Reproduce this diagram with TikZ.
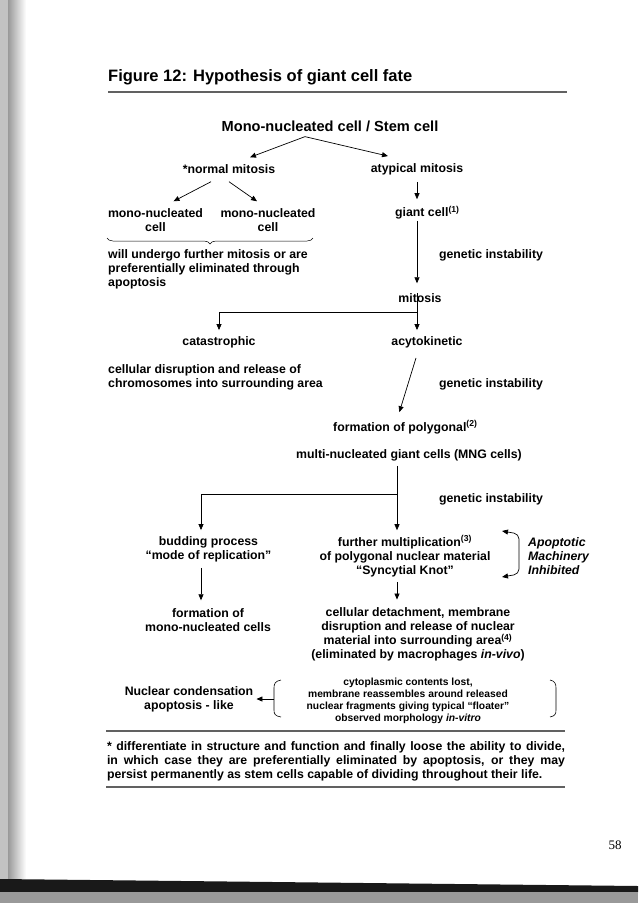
\documentclass[tikz,border=0pt]{standalone}
\usepackage{fontspec}
\setmainfont{Liberation Sans}
\newfontfamily\pagefont{Liberation Serif}
\usepackage{tikz}
\usetikzlibrary{arrows.meta}
\usetikzlibrary{decorations.pathreplacing}
\definecolor{rulegray}{rgb}{0.38,0.38,0.38}
\definecolor{edgegray}{rgb}{0.6,0.6,0.6}

\tikzset{
  lbl/.style={inner sep=0pt,font=\fontsize{12.3}{14}\selectfont\bfseries,align=center},
  smalllbl/.style={inner sep=0pt,font=\fontsize{10.3}{12}\selectfont\bfseries,align=center},
  arr/.style={-{Triangle[length=6pt,width=5pt]},line width=0.7pt},
  conn/.style={line width=0.7pt},
  rulebar/.style={line width=2.4pt,draw=rulegray},
}

\begin{document}
\begin{tikzpicture}[x=1pt,y=-1pt]
\useasboundingbox (0,0) rectangle (638,903);
% scan edges
\fill[edgegray!60] (0,0) rectangle (8,903);
\shade[left color=edgegray,right color=white] (8,0) rectangle (26,903);
\fill[black!90] (0,879) -- (638,886) -- (638,892) -- (0,892) -- cycle;
\fill[edgegray] (0,892) rectangle (638,903);

% title
\node[anchor=west,inner sep=0pt,font=\fontsize{16.5}{18}\selectfont\bfseries] (title) at (108,77) {Figure 12: Hypothesis of giant cell fate};
\draw[rulebar] (108,92) -- (567,92);

% first split
\node[lbl,font=\fontsize{14.6}{16}\selectfont\bfseries] (stem) at (330,126) {Mono-nucleated cell / Stem cell};
\node[lbl] (normal) at (229,169) {*normal mitosis};
\node[lbl] (atyp) at (417,169) {atypical mitosis};
\coordinate (stemfork) at ([xshift=-25pt,yshift=-5pt]stem.south);
\draw[arr] (stemfork) -- ([xshift=21pt,yshift=7pt]normal.north);
\draw[arr] (stemfork) -- ([xshift=-29pt,yshift=7pt]atyp.north);

% normal mitosis branch
\node[lbl] (monoL) at (155.5,220) {mono-nucleated\\cell};
\node[lbl] (monoR) at (268,220) {mono-nucleated\\cell};
\draw[arr] ([xshift=-18pt,yshift=-8pt]normal.south) -- ([xshift=18pt,yshift=7pt]monoL.north);
\draw[arr] ([yshift=-8pt]normal.south) -- ([xshift=-11pt,yshift=7pt]monoR.north);
\draw[decorate,decoration={brace,mirror,amplitude=6pt},line width=0.5pt] (107,238) -- (313,238);
\node[lbl,anchor=west,align=left] (will) at (108,269) {will undergo further mitosis or are\\preferentially eliminated through\\apoptosis};

% atypical mitosis branch
\node[lbl,anchor=west] (giant) at (395,213) {giant cell\textsuperscript{(1)}};
\draw[arr] ([yshift=-7pt]atyp.south) -- ([yshift=7pt]atyp.south |- giant.north);
\node[lbl] (gi1) at (491,255) {genetic instability};
\node[lbl] (mitosis) at (420,298) {mitosis};
\draw[arr] ([yshift=-1pt]atyp.south |- giant.south) -- ([yshift=10pt]atyp.south |- mitosis.north);
\coordinate (mitfork) at (417,312);
\draw[conn] (mitosis.north -| mitfork) -- (mitfork);
\node[lbl] (catas) at (219,342) {catastrophic};
\node[lbl] (acyto) at (427,342) {acytokinetic};
\draw[arr] (mitfork) -| ([yshift=6pt]catas.north);
\draw[arr] (mitfork) -- ([yshift=6pt]mitfork |- acyto.north);
\node[lbl,anchor=west,align=left] (cellular) at (108,377) {cellular disruption and release of\\chromosomes into surrounding area};
\node[lbl] (gi2) at (491,384) {genetic instability};
\node[lbl,anchor=west] (poly) at (333,427) {formation of polygonal\textsuperscript{(2)}};
\draw[arr] ([xshift=-11pt,yshift=-10pt]acyto.south) -- ([xshift=-6pt,yshift=8pt]poly.north);
\node[lbl] (mng) at (409,455) {multi-nucleated giant cells (MNG cells)};

% MNG split
\coordinate (mngfork) at (397,494);
\coordinate (budfork) at (201,494);
\draw[conn] ([yshift=-5pt]mng.south -| mngfork) -- (mngfork) -- (budfork);
\node[lbl] (gi3) at (491,499) {genetic instability};
\node[lbl] (budding) at (208.5,549) {budding process\\“mode of replication”};
\node[lbl] (further) at (405,556) {further multiplication\textsuperscript{(3)}\\of polygonal nuclear material\\“Syncytial Knot”};
\draw[arr] (mngfork) -- ([yshift=5pt]mngfork |- further.north);
\draw[arr] (budfork) -- ([yshift=6pt]budfork |- budding.north);
\node[lbl] (formmono) at (208,620) {formation of\\mono-nucleated cells};
\draw[arr] ([yshift=-6pt]budfork |- budding.south) -- ([yshift=8pt]budfork |- formmono.north);
\node[lbl] (detach) at (418,634.5) {cellular detachment, membrane\\disruption and release of nuclear\\material into surrounding area\textsuperscript{(4)}\\(eliminated by macrophages \textit{in-vivo})};
\draw[arr] ([yshift=-5pt]mngfork |- further.south) -- ([yshift=8pt]mngfork |- detach.north);

% apoptotic machinery
\coordinate (apotop) at (502,531);
\coordinate (apobot) at (502,577);
\draw[{Triangle[length=6pt,width=5pt]}-{Triangle[length=6pt,width=5pt]},line width=0.7pt,rounded corners=5pt] (apotop) -- (519,534) -- (519,574) -- (apobot);
\node[lbl,anchor=west,align=left,font=\fontsize{12.3}{14}\selectfont\bfseries\itshape] (apoinh) at (528,556) {Apoptotic\\Machinery\\Inhibited};

% floater cells
\node[lbl] (nuclear) at (189,699) {Nuclear condensation\\apoptosis - like};
\node[smalllbl] (cyto) at (408,701) {cytoplasmic contents lost,\\membrane reassembles around released\\nuclear fragments giving typical “floater”\\observed morphology \textit{in-vitro}};
\draw[line width=0.6pt] (281,680) .. controls (275,681) and (274,684) .. (274,688) -- (274,710) .. controls (274,714) and (275,716) .. (281,717);
\draw[line width=0.6pt] (550,680) .. controls (555,681) and (556,684) .. (556,688) -- (556,710) .. controls (556,714) and (555,716) .. (550,717);
\coordinate (lbrace) at (274,699);
\draw[arr] (lbrace) -- ([xshift=3pt]nuclear.east);

% footnote
\draw[rulebar] (106,731) -- (565,731);
\node[lbl,text width=458pt,align=justify] (foot) at (336,761) {* differentiate in structure and function and finally loose the ability to divide,\linebreak in which case they are preferentially eliminated by apoptosis, or they may\linebreak persist permanently as stem cells capable of dividing throughout their life.};
\draw[rulebar] (106,787) -- (565,787);

\node[inner sep=0pt,font=\pagefont\fontsize{13}{15}\selectfont] (pagenum) at (615,845) {58};
\end{tikzpicture}
\end{document}
